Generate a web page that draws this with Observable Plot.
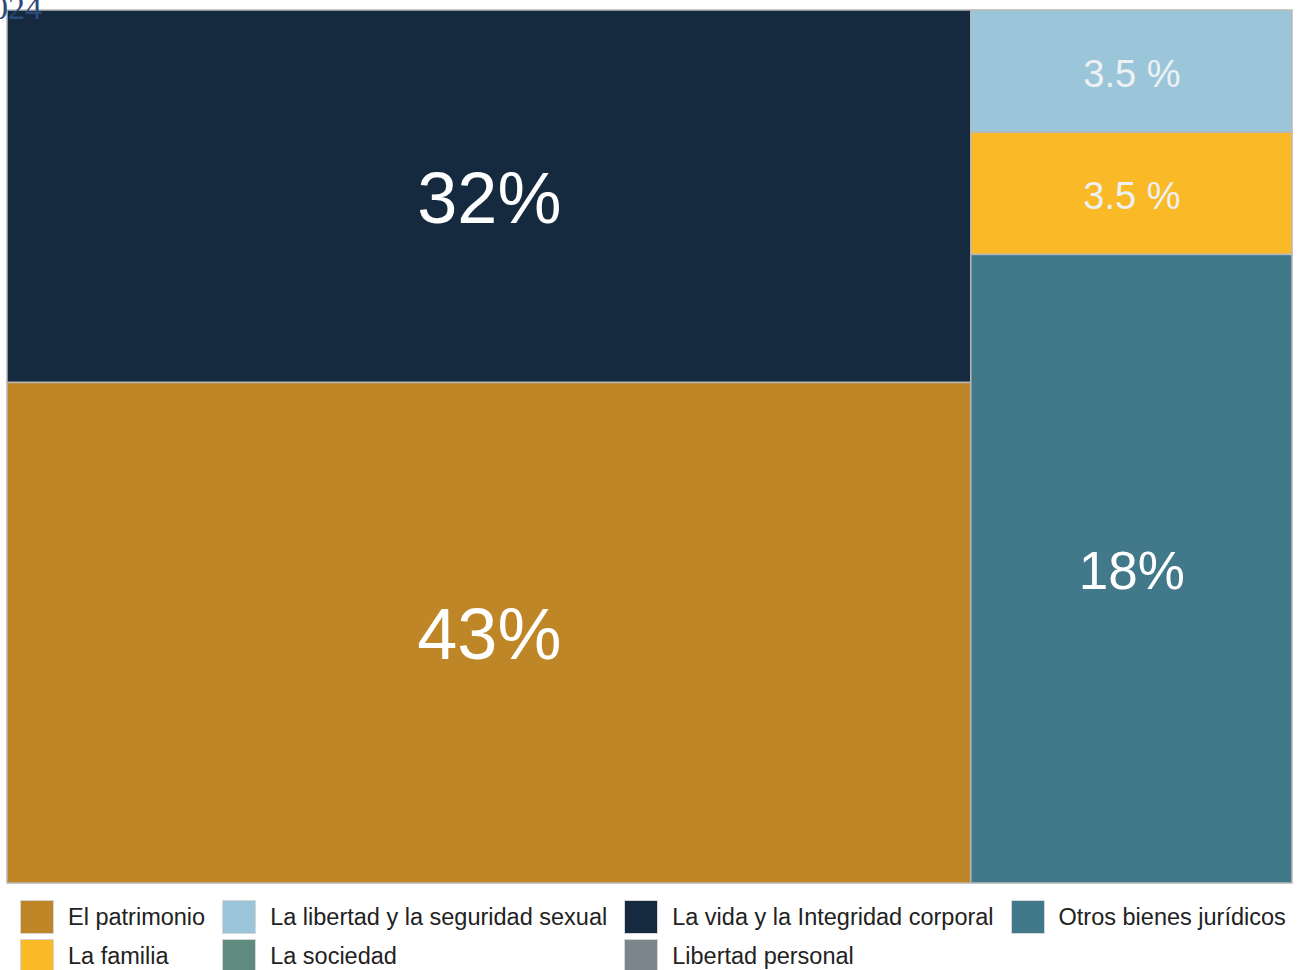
<!DOCTYPE html>
<html>
<head>
<meta charset="utf-8">
<script src="https://cdn.jsdelivr.net/npm/d3@7"></script>
<script src="https://cdn.jsdelivr.net/npm/@observablehq/plot@0.6"></script>
<style>
  html, body { margin: 0; padding: 0; background: #ffffff; overflow: hidden; }
  body { width: 1299px; height: 970px; position: relative; font-family: "Liberation Sans", Arial, sans-serif; }
  #year { position: absolute; left: -100px; width: 142px; text-align: right; top: -9px; font-family: "Liberation Serif", "Times New Roman", serif; font-size: 34px; line-height: 34px; color: #2B4A78; z-index: 2; }
  #legend { display: grid; grid-template-columns: repeat(4, auto); justify-content: start; column-gap: 17px; row-gap: 5px; padding-left: 20px; margin-top: 15px; }
  .item { display: flex; align-items: center; gap: 14px; white-space: nowrap; font-size: 23.5px; color: #222; height: 34px; }
  .sw { width: 34px; height: 34px; box-sizing: border-box; border: 1px solid #d6d6d6; flex: none; }
</style>
</head>
<body>
<div id="year">2024</div>
<div id="chart"></div>
<div id="legend"></div>
<script>
// Legend categories (row-major order, as in the reference legend)
const categories = [
  "El patrimonio",
  "La libertad y la seguridad sexual",
  "La vida y la Integridad corporal",
  "Otros bienes jurídicos",
  "La familia",
  "La sociedad",
  "Libertad personal"
];
const categoryColors = ["#BE8626", "#9BC6DA", "#152A3E", "#41788A", "#FABA28", "#5E8B7E", "#7A858C"];

// Treemap cells
const cellNames  = ["La vida y la Integridad corporal", "El patrimonio", "La libertad y la seguridad sexual", "La familia", "Otros bienes jurídicos"];
const cellValues = [32, 43, 3.5, 3.5, 18];
const cellLabels = ["32%", "43%", "3.5 %", "3.5 %", "18%"];
const cellColumn = ["A", "A", "B", "B", "B"];

const leaves = cellNames.map((name, i) => ({name, value: cellValues[i], label: cellLabels[i], col: cellColumn[i]}));
const grouped = d3.groups(leaves, d => d.col).map(([key, children]) => ({name: key, children}));
const root = d3.hierarchy({name: "root", children: grouped}).sum(d => d.children ? 0 : d.value);
d3.treemap().tile(d3.treemapSliceDice).size([1, 1]).round(false)(root);
const cells = root.leaves().map(n => ({
  name: n.data.name, value: n.data.value, label: n.data.label,
  x0: n.x0, x1: n.x1, y0: n.y0, y1: n.y1,
  cx: (n.x0 + n.x1) / 2, cy: (n.y0 + n.y1) / 2
}));

const sizeFor = v => v >= 30 ? 72 : v >= 10 ? 53 : 38;

const chart = Plot.plot({
  width: 1299,
  height: 885,
  marginTop: 10,
  marginBottom: 2,
  marginLeft: 7,
  marginRight: 7,
  style: {background: "transparent", fontFamily: "Liberation Sans, Arial, sans-serif"},
  x: {domain: [0, 1], axis: null},
  y: {domain: [0, 1], reverse: true, axis: null},
  color: {domain: categories, range: categoryColors},
  marks: [
    Plot.rect(cells, {x1: "x0", x2: "x1", y1: "y0", y2: "y1", fill: "name", stroke: "#b8b8b8", strokeWidth: 1.5}),
    Plot.text(cells.filter(d => d.value >= 10), {
      x: "cx", y: "cy", text: "label", fill: "#ffffff",
      fontSize: d => sizeFor(d.value), textAnchor: "middle", lineAnchor: "middle", dy: 3
    }),
    Plot.text(cells.filter(d => d.value < 10), {
      x: "cx", y: "cy", text: "label", fill: "#EEF1F3",
      fontSize: 38, textAnchor: "middle", lineAnchor: "middle", dy: 3
    })
  ]
});
document.getElementById("chart").appendChild(chart);

const legend = document.getElementById("legend");
categories.forEach((c, i) => {
  const item = document.createElement("div");
  item.className = "item";
  const sw = document.createElement("span");
  sw.className = "sw";
  sw.style.background = categoryColors[i];
  const t = document.createElement("span");
  t.textContent = c;
  item.appendChild(sw);
  item.appendChild(t);
  legend.appendChild(item);
});
</script>
</body>
</html>
